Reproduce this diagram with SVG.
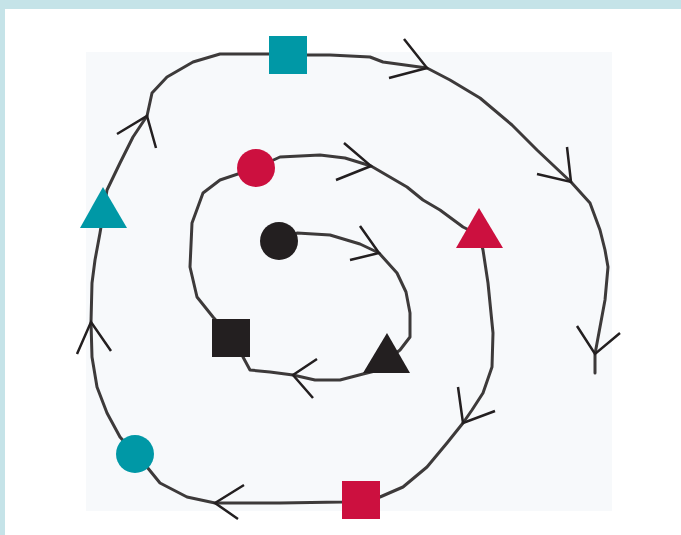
<svg xmlns="http://www.w3.org/2000/svg" width="681" height="535" viewBox="0 0 681 535">
<style>
.teal{fill:#0098a6}
.red{fill:#cc103f}
.blk{fill:#231f20}
.spiral{fill:none;stroke:#3d3a3a;stroke-width:3;stroke-linejoin:round;stroke-linecap:round}
.arr{fill:none;stroke:#231f20;stroke-width:2.5;stroke-linecap:butt;stroke-linejoin:miter}
</style>
<rect x="0" y="0" width="681" height="535" fill="#c5e3e8"/>
<rect x="5" y="9" width="676" height="526" fill="#ffffff"/>
<rect x="86" y="52" width="526" height="459" fill="#f7f9fb"/>
<g id="connectors">
<polyline class="spiral" points="279,241 297,233 330,235 360,244 379,253 397,273 406,292 410,313 410,337 400,350 387,360 375,371 363,374 340,380 315,380 293,375 270,372 250,370 243,357 231,337 213,317 197,297 190,267 192,223 203,193 220,180 256,168 280,157 320,155 345,158 371,166 407,187 423,200 440,210 463,227 479,235 483,250 488,283 493,333 492,367 483,393 472,410 463,423 447,443 427,467 403,487 380,497 361,500 342,502 280,503 215,503 187,497 160,483 147,467 135,454 120,437 107,413 97,387 92,357 91,322 92,283 95,260 100,233 103,215 107,190 120,163 133,137 147,116 152,93 167,77 193,62 220,54 269,54 307,55 330,55 370,57 383,62 427,68 450,80 480,98 512,125 537,150 571,182 590,203 600,230 605,250 608,267 605,300 600,327 595,354 595,373"/>
<polyline class="arr" points="360,226 379,253 350,260"/>
<polyline class="arr" points="344,143 371,166 336,180"/>
<polyline class="arr" points="317,359 293,375 313,398"/>
<polyline class="arr" points="458,387 463,423 495,411"/>
<polyline class="arr" points="244,485 215,503 238,519"/>
<polyline class="arr" points="77,354 91,322 111,351"/>
<polyline class="arr" points="117,134 147,116 156,148"/>
<polyline class="arr" points="404,39 427,68 389,78"/>
<polyline class="arr" points="567,147 571,182 537,174"/>
<polyline class="arr" points="577,326 595,354 620,333"/>
</g>
<g id="teal-square"><rect class="teal" x="269" y="36" width="38" height="38"/></g>
<g id="teal-triangle"><polygon class="teal" points="103,187 127,228 80,228"/></g>
<g id="teal-circle"><circle class="teal" cx="135" cy="454" r="19"/></g>
<g id="red-square"><rect class="red" x="342" y="481" width="38" height="38"/></g>
<g id="red-triangle"><polygon class="red" points="479,208 503,248 456,248"/></g>
<g id="red-circle"><circle class="red" cx="256" cy="168" r="19"/></g>
<g id="black-circle"><circle class="blk" cx="279" cy="241" r="19"/></g>
<g id="black-square"><rect class="blk" x="212" y="319" width="38" height="38"/></g>
<g id="black-triangle"><polygon class="blk" points="387,333 410,373 363,373"/></g>
</svg>
